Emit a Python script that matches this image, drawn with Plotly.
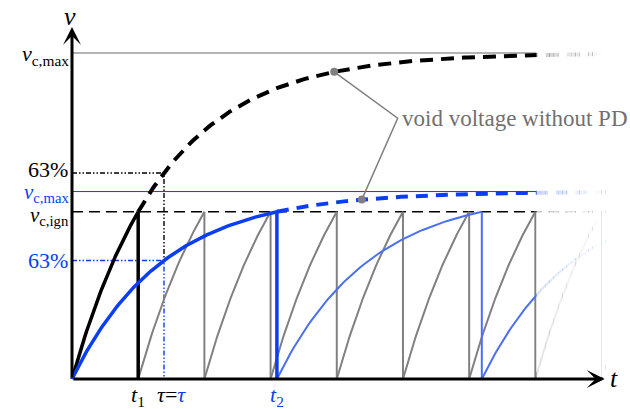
import numpy as np
import plotly.graph_objects as go

# values: time in units of tau, voltage relative to v_c,max
TAU = 1.0
V_MAX = 1.0          # v_c,max (black)
V_MAX_PD = 0.575     # v_c,max (blue)
V_IGN = 0.513        # v_c,ign
PCT = 0.63
T_SOLID = 5.05       # where the drawing starts to fade out
T_FADE = 5.8
T_AXIS = 5.79
V_AXIS = 1.08
CALLOUT_T = [2.85, 3.54, 3.15]   # dot on black curve, bend, dot on blue curve
CALLOUT_V = 0.80
CALLOUT_TEXT = 'void voltage without PD'

BLUE = '#0b3ef0'
LIGHT_BLUE = '#4a70f0'
GRAY = '#808080'
FONT = 'Liberation Serif, Times New Roman, serif'


def charge(t, vmax):
    return vmax * (1 - np.exp(-t / TAU))


t1 = -TAU * np.log(1 - V_IGN / V_MAX)
t2 = -TAU * np.log(1 - V_IGN / V_MAX_PD)


def sawtooth(t0, period, vmax, t_stop):
    xs, ys = [], []
    while t0 < t_stop:
        t_end = min(t0 + period, t_stop)
        t = np.linspace(t0, t_end, 60)
        xs += list(t) + [None]
        ys += list(charge(t - t0, vmax)) + [None]
        if t0 + period <= t_stop:
            xs += [t_end, t_end, None]
            ys += [0, V_IGN, None]
        t0 += period
    return xs, ys


fig = go.Figure()


def line(x, y, color, width, dash='solid'):
    fig.add_trace(go.Scatter(x=x, y=y, mode='lines', hoverinfo='skip',
                             line=dict(color=color, width=width, dash=dash)))


# reference levels
line([0, T_SOLID], [V_MAX, V_MAX], '#9a9a9a', 1.3)
line([0, T_SOLID], [V_MAX_PD, V_MAX_PD], BLUE, 1)
line([0, T_FADE], [V_IGN, V_IGN], 'black', 1.5, '11px,6px')

# 63 % guides
v63 = charge(TAU, V_MAX)
v63b = charge(TAU, V_MAX_PD)
line([0, TAU, TAU], [v63, v63, v63b], 'black', 1.4, '5px,2px,1.5px,2px,1.5px,2px')
line([0, TAU, TAU], [v63b, v63b, 0], BLUE, 1.4, '5px,2px,1.5px,2px,1.5px,2px')

# repeated discharges
gx, gy = sawtooth(t1, t1, V_MAX, T_FADE)
line(gx, gy, GRAY, 2)
bx, by = sawtooth(t2, t2, V_MAX_PD, T_FADE)
line(bx, by, LIGHT_BLUE, 2)

# charging without PD
tb = np.linspace(t1, T_FADE, 200)
line(tb, charge(tb, V_MAX), 'black', 4, '13px,8px')
tb = np.linspace(t2, T_FADE, 200)
line(tb, charge(tb, V_MAX_PD), BLUE, 4, '12px,8px')

# first charge up to ignition
ta = np.linspace(0, t1, 60)
line(list(ta) + [t1, t1], list(charge(ta, V_MAX)) + [V_IGN, 0], 'black', 3.5)
ta = np.linspace(0, t2, 120)
line(list(ta) + [t2, t2], list(charge(ta, V_MAX_PD)) + [V_IGN, 0], BLUE, 3.5)

# callout
cv = [charge(CALLOUT_T[0], V_MAX), CALLOUT_V, charge(CALLOUT_T[2], V_MAX_PD)]
line(CALLOUT_T, cv, GRAY, 1.5)
fig.add_trace(go.Scatter(x=[CALLOUT_T[0], CALLOUT_T[2]], y=[cv[0], cv[2]], mode='markers',
                         marker=dict(color=GRAY, size=8), hoverinfo='skip'))

# fade out on the right
n = 16
edges = np.linspace(T_SOLID, T_FADE, n + 1)
for i in range(n):
    fig.add_shape(type='rect', x0=edges[i], x1=edges[i + 1], y0=0.006, y1=1.12,
                  fillcolor='white', opacity=0.8 + 0.2 * i / (n - 1),
                  line_width=0, layer='above')
fig.add_shape(type='rect', x0=T_FADE, x1=6.3, y0=0.006, y1=1.12,
              fillcolor='white', line_width=0, layer='above')

ann = []
# axes with arrows
for (x, y) in [(T_AXIS, 0), (0, V_AXIS)]:
    ann.append(dict(x=x, y=y, ax=0, ay=0, axref='x', ayref='y', text='',
                    showarrow=True, arrowhead=3, arrowsize=1.0, arrowwidth=3,
                    arrowcolor='black'))


def label(text, x, y, color='black', size=22, **kw):
    ann.append(dict(x=x, y=y, text=text, showarrow=False, borderpad=0,
                    font=dict(family=FONT, size=size, color=color), **kw))


label('<i>v</i>', 0, V_AXIS, size=26, xanchor='center', yanchor='bottom', xshift=-2, yshift=-5)
label('<i>t</i>', T_AXIS, 0, size=26, xanchor='left', yanchor='middle', xshift=4, yshift=1)

label('<i>v</i><sub>c,max</sub>', 0, V_MAX, xanchor='right', yanchor='middle', xshift=-2, yshift=-2)
label('63%', 0, v63, xanchor='right', yanchor='middle', xshift=-3, yshift=3)
label('<i>v</i><sub>c,max</sub>', 0, V_MAX_PD, BLUE, size=21, xanchor='right', yanchor='middle', xshift=-2, yshift=-1)
label('<i>v</i><sub>c,ign</sub>', 0, V_IGN, size=21, xanchor='right', yanchor='middle', xshift=-2, yshift=-4)
label('63%', 0, v63b, BLUE, xanchor='right', yanchor='middle', xshift=-3)

label('<i>t</i><sub>1</sub>', t1, 0, xanchor='center', yanchor='top', yshift=-2)
label('<i>τ</i>=<span style="color:%s"><i>τ</i></span>' % BLUE, TAU, 0,
      xanchor='left', yanchor='top', xshift=-8, yshift=-2)
label('<i>t</i><sub>2</sub>', t2, 0, BLUE, xanchor='center', yanchor='top', yshift=-2)

label(CALLOUT_TEXT, CALLOUT_T[1], CALLOUT_V, '#707070', size=23,
      xanchor='left', yanchor='middle', xshift=3)

fig.update_layout(
    width=630, height=409, margin=dict(l=0, r=0, t=0, b=0),
    paper_bgcolor='white', plot_bgcolor='white', showlegend=False,
    annotations=ann,
    xaxis=dict(range=[-72 / 92, 558 / 92], visible=False, fixedrange=True),
    yaxis=dict(range=[-30 / 326, 379 / 326], visible=False, fixedrange=True),
)

# the page's default body margin would shift the figure by 8px
fig.write_html('out.html', config={'displayModeBar': False},
               post_script="document.body.style.margin='0';")
